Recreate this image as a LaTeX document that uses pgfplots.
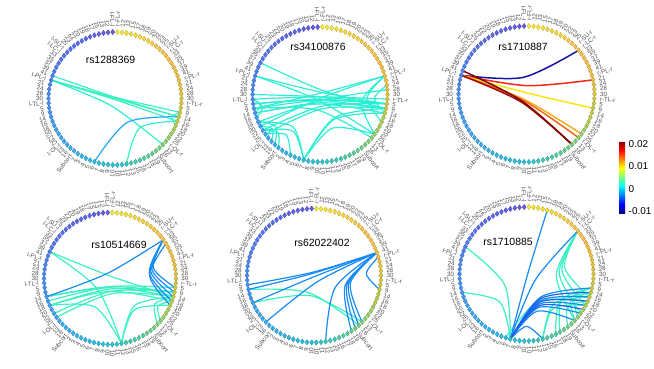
\documentclass[border=0pt]{standalone}
\usepackage{fontspec}
\setmainfont{Liberation Sans}
\usepackage{pgfplots}
\usepackage{pgfplotstable}
\pgfplotsset{compat=1.18}
\usepgfplotslibrary{polar}

\definecolor{aq}{RGB}{60,240,195}
\definecolor{aqc}{RGB}{45,238,212}
\definecolor{bl1}{RGB}{35,165,250}
\definecolor{bl}{RGB}{22,138,245}
\definecolor{bld}{RGB}{30,95,235}
\definecolor{dkb}{RGB}{20,20,165}
\definecolor{rd}{RGB}{240,40,20}
\definecolor{yl}{RGB}{252,228,20}
\definecolor{or1}{RGB}{250,170,30}
\definecolor{or2}{RGB}{245,105,20}
\definecolor{dr}{RGB}{165,8,5}
\definecolor{dr2}{RGB}{128,0,0}
\definecolor{lab}{RGB}{80,80,80}

\pgfplotsset{colormap={nodecm}{rgb255(0)=(100,92,228) rgb255(11)=(88,112,240)
  rgb255(22)=(72,142,246) rgb255(33)=(58,172,242) rgb255(44)=(40,196,214)
  rgb255(50)=(72,206,172) rgb255(56)=(130,210,120) rgb255(62)=(190,206,72)
  rgb255(70)=(236,196,62) rgb255(76)=(250,190,70) rgb255(89)=(245,236,56)}}

% node layout: angle, colour index, radius, label radius, label
\pgfplotstableread{
a c r rl t
92 0 1 1.08 l-FL-l
96 1 1 1.08 12
100 2 1 1.08 13
104 3 1 1.08 15
108 4 1 1.08 17
112 5 1 1.08 18
116 6 1 1.08 19
120 7 1 1.08 20
124 8 1 1.08 22
128 9 1 1.08 23
132 10 1 1.08 25
136 11 1 1.08 l-SU-l
140 12 1 1.08 l-LC-l
144 13 1 1.08 33
148 14 1 1.08 35
152 15 1 1.08 37
156 16 1 1.08 39
160 17 1 1.08 41
164 18 1 1.08 l-PL-l
168 19 1 1.08 21
172 20 1 1.08 24
176 21 1 1.08 28
180 22 1 1.08 30
184 23 1 1.08 l-TL-l
188 24 1 1.08 5
192 25 1 1.08 9
196 26 1 1.08 14
200 27 1 1.08 16
204 28 1 1.08 18
208 29 1 1.08 20
212 30 1 1.08 22
216 31 1 1.08 25
220 32 1 1.08 l-OL-l
224 33 1 1.08 13
228 34 1 1.08 16
232 35 1 1.08 Subcort
236 36 1 1.08 2
240 37 1 1.08 3
244 38 1 1.08 4
248 39 1 1.08 5
252 40 1 1.08 6
256 41 1 1.08 7
260 42 1 1.08 8
264 43 1 1.08 9
268 44 1 1.08 10
}\leftnodes

\pgfplotstableread{
a c r rl t
88 89 1 1.08 r-FL-r
84 88 1 1.08 12
80 87 1 1.08 13
76 86 1 1.08 15
72 85 1 1.08 17
68 84 1 1.08 18
64 83 1 1.08 19
60 82 1 1.08 20
56 81 1 1.08 22
52 80 1 1.08 23
48 79 1 1.08 25
44 78 1 1.08 r-SU-r
40 77 1 1.08 r-LC-r
36 76 1 1.08 33
32 75 1 1.08 35
28 74 1 1.08 37
24 73 1 1.08 39
20 72 1 1.08 41
16 71 1 1.08 r-PL-r
12 70 1 1.08 21
8 69 1 1.08 24
4 68 1 1.08 28
0 67 1 1.08 30
-4 66 1 1.08 r-TL-r
-8 65 1 1.08 5
-12 64 1 1.08 9
-16 63 1 1.08 14
-20 62 1 1.08 16
-24 61 1 1.08 18
-28 60 1 1.08 20
-32 59 1 1.08 22
-36 58 1 1.08 25
-40 57 1 1.08 r-OL-r
-44 56 1 1.08 13
-48 55 1 1.08 16
-52 54 1 1.08 Subcort
-56 53 1 1.08 19
-60 52 1 1.08 18
-64 51 1 1.08 17
-68 50 1 1.08 16
-72 49 1 1.08 15
-76 48 1 1.08 13
-80 47 1 1.08 12
-84 46 1 1.08 11
-88 45 1 1.08 10
}\rightnodes

\newcommand{\labfont}{\fontsize{6.2}{6.2}\selectfont}
\newcommand{\titfont}{\fontsize{10.5}{12}\selectfont}

\pgfplotsset{
  ring/.style={hide axis, scale only axis, anchor=center, clip=false,
    xmin=-1.5, xmax=1.5, ymin=-1.5, ymax=1.5, data cs=polar,
    colormap name=nodecm, point meta min=0, point meta max=89},
  lk/.style={smooth, mark=none, line width=1.2bp},
}

% diamonds and their labels, same in every panel
\newcommand{\ringnodes}{%
  \addplot[scatter, only marks, mark=diamond*, mark size=2.6bp, scatter src=explicit]
    table[x=a, y=r, meta=c] {\leftnodes};
  \addplot[scatter, only marks, mark=diamond*, mark size=2.6bp, scatter src=explicit]
    table[x=a, y=r, meta=c] {\rightnodes};
  \addplot[only marks, mark=none, point meta=explicit symbolic,
    visualization depends on={\thisrow{a} \as \ang},
    nodes near coords, nodes near coords align={anchor=east},
    every node near coord/.append style={rotate=\ang+180, anchor=east,
      font=\labfont, text=lab, inner sep=0pt}]
    table[x=a, y=rl, meta=t] {\leftnodes};
  \addplot[only marks, mark=none, point meta=explicit symbolic,
    visualization depends on={\thisrow{a} \as \ang},
    nodes near coords, nodes near coords align={anchor=west},
    every node near coord/.append style={rotate=\ang, anchor=west,
      font=\labfont, text=lab, inner sep=0pt}]
    table[x=a, y=rl, meta=t] {\rightnodes};
}

\begin{document}
\begin{tikzpicture}[x=1bp, y=1bp]
\useasboundingbox (0,0) rectangle (654,368);

% ---- rs1288369
\begin{axis}[ring, at={(115bp,269.5bp)}, width=199.5bp, height=199.5bp]
\addplot[lk,aq] coordinates {(164,1) (76,0.017) (348,1)};
\addplot[lk,aq] coordinates {(164,1) (254,0) (344,1)};
\addplot[lk,aq] coordinates {(164,1) (252,0.017) (340,1)};
\addplot[lk,aq] coordinates {(160,1) (72,0.017) (344,1)};
\addplot[lk,aqc] coordinates {(164,1) (240,0.123) (316,1)};
\addplot[lk,bl1] coordinates {(252,1) (298,0.404) (344,1)};
\addplot[lk,aq] coordinates {(280,1) (310,0.577) (340,1)};
\addplot[lk,aq] coordinates {(336,1) (342,0.900) (348,1)};
\ringnodes
\end{axis}
\node[font=\titfont] at (110.5,308) {rs1288369};

% ---- rs34100876
\begin{axis}[ring, at={(320bp,273.5bp)}, width=202.5bp, height=202.5bp]
\addplot[lk,aqc] coordinates {(152,1) (70,0.070) (348,1)};
\addplot[lk,aqc] coordinates {(164,1) (244,0.087) (324,1)};
\addplot[lk,aqc] coordinates {(164,1) (78,0.035) (352,1)};
\addplot[lk,aqc] coordinates {(16,1) (104,0.017) (192,1)};
\addplot[lk,aqc] coordinates {(16,1) (292,0.052) (208,1)};
\addplot[lk,aqc] coordinates {(184,1) (270,0.035) (356,1)};
\addplot[lk,aqc] coordinates {(188,1) (270,0.070) (352,1)};
\addplot[lk,aqc] coordinates {(192,1) (272,0.087) (352,1)};
\addplot[lk,aqc] coordinates {(188,1) (268,0.087) (348,1)};
\addplot[lk,aqc] coordinates {(196,1) (272,0.123) (348,1)};
\addplot[lk,aqc] coordinates {(180,1) (266,0.035) (352,1)};
\addplot[lk,aqc] coordinates {(212,1) (282,0.176) (352,1)};
\addplot[lk,aqc] coordinates {(216,1) (282,0.213) (348,1)};
\addplot[lk,aqc] coordinates {(256,1) (234,0.675) (212,1)};
\addplot[lk,aqc] coordinates {(256,1) (230,0.625) (204,1)};
\addplot[lk,aqc] coordinates {(256,1) (300,0.424) (344,1)};
\addplot[lk,aqc] coordinates {(256,1) (290,0.532) (324,1)};
\addplot[lk,aqc] coordinates {(256,1) (302,0.404) (348,1)};
\addplot[lk,aqc] coordinates {(16,1) (350,0.625) (324,1)};
\addplot[lk,aqc] coordinates {(16,1) (356,0.700) (336,1)};
\addplot[lk,aqc] coordinates {(8,1) (356,0.810) (344,1)};
\addplot[lk,aqc] coordinates {(184,1) (190,0.900) (196,1)};
\addplot[lk,aqc] coordinates {(184,1) (192,0.869) (200,1)};
\addplot[lk,aqc] coordinates {(208,1) (216,0.869) (224,1)};
\addplot[lk,aqc] coordinates {(204,1) (216,0.810) (228,1)};
\addplot[lk,aqc] coordinates {(212,1) (222,0.839) (232,1)};
\addplot[lk,aqc] coordinates {(216,1) (230,0.781) (244,1)};
\addplot[lk,aqc] coordinates {(192,1) (256,0.231) (320,1)};
\addplot[lk,aqc] coordinates {(204,1) (284,0.087) (4,1)};
\addplot[lk,aqc] coordinates {(196,1) (270,0.141) (344,1)};
\ringnodes
\end{axis}
\node[font=\titfont] at (318,321) {rs34100876};

% ---- rs1710887
\begin{axis}[ring, at={(526.5bp,274bp)}, width=204bp, height=204bp]
\addplot[lk,dkb,line width=1.5bp] coordinates {(164,1) (102,0.249) (40,1)};
\addplot[lk,rd,line width=1.5bp] coordinates {(164,1) (88,0.123) (12,1)};
\addplot[lk,yl,line width=1.5bp] coordinates {(164,1) (76,0.017) (348,1)};
\addplot[lk,or1,line width=1.5bp] coordinates {(164,1) (244,0.087) (324,1)};
\addplot[lk,or2,line width=1.5bp] coordinates {(164,1) (242,0.105) (320,1)};
\addplot[lk,dr,line width=1.5bp] coordinates {(164,1) (238,0.141) (312,1)};
\addplot[lk,dr2,line width=1.5bp] coordinates {(160,1) (236,0.123) (312,1)};
\ringnodes
\end{axis}
\node[font=\titfont] at (523,321) {rs1710887};

% ---- rs10514669
\begin{axis}[ring, at={(110bp,89.5bp)}, width=198bp, height=198bp]
\addplot[lk,aq] coordinates {(156,1) (70,0.035) (344,1)};
\addplot[lk,aq] coordinates {(156,1) (218,0.249) (280,1)};
\addplot[lk,aq] coordinates {(196,1) (272,0.123) (348,1)};
\addplot[lk,aq] coordinates {(196,1) (270,0.141) (344,1)};
\addplot[lk,aq] coordinates {(204,1) (276,0.158) (348,1)};
\addplot[lk,aq] coordinates {(204,1) (272,0.194) (340,1)};
\addplot[lk,aq] coordinates {(216,1) (280,0.231) (344,1)};
\addplot[lk,aq] coordinates {(212,1) (280,0.194) (348,1)};
\addplot[lk,aq] coordinates {(200,1) (276,0.123) (352,1)};
\addplot[lk,aq] coordinates {(280,1) (312,0.554) (344,1)};
\addplot[lk,aq] coordinates {(280,1) (308,0.601) (336,1)};
\addplot[lk,aq] coordinates {(280,1) (242,0.488) (204,1)};
\addplot[lk,aq] coordinates {(316,1) (330,0.781) (344,1)};
\addplot[lk,aq] coordinates {(320,1) (330,0.839) (340,1)};
\addplot[lk,bl] coordinates {(36,1) (116,0.087) (196,1)};
\addplot[lk,bl] coordinates {(36,1) (14,0.675) (352,1)};
\addplot[lk,bl] coordinates {(36,1) (12,0.649) (348,1)};
\addplot[lk,bl] coordinates {(36,1) (10,0.625) (344,1)};
\addplot[lk,bl] coordinates {(36,1) (8,0.601) (340,1)};
\addplot[lk,bl] coordinates {(32,1) (4,0.601) (336,1)};
\ringnodes
\end{axis}
\node[font=\titfont] at (119,123) {rs10514669};

% ---- rs62022402
\begin{axis}[ring, at={(314bp,92.5bp)}, width=201bp, height=201bp]
\addplot[lk,aq] coordinates {(192,1) (252,0.268) (312,1)};
\addplot[lk,aq] coordinates {(204,1) (260,0.306) (316,1)};
\addplot[lk,bl] coordinates {(20,1) (104,0.052) (188,1)};
\addplot[lk,bl] coordinates {(20,1) (106,0.035) (192,1)};
\addplot[lk,bl] coordinates {(20,1) (292,0.017) (204,1)};
\addplot[lk,bl] coordinates {(20,1) (302,0.105) (224,1)};
\addplot[lk,bl] coordinates {(20,1) (330,0.364) (280,1)};
\addplot[lk,bl] coordinates {(20,1) (342,0.488) (304,1)};
\addplot[lk,bl] coordinates {(20,1) (344,0.510) (308,1)};
\addplot[lk,bl] coordinates {(20,1) (346,0.532) (312,1)};
\addplot[lk,bl] coordinates {(20,1) (348,0.554) (316,1)};
\addplot[lk,bl] coordinates {(16,1) (2,0.781) (348,1)};
\ringnodes
\end{axis}
\node[font=\titfont] at (322,125) {rs62022402};

% ---- rs1710885
\begin{axis}[ring, at={(526.5bp,94bp)}, width=201bp, height=201bp]
\addplot[lk,aq] coordinates {(156,1) (206,0.364) (256,1)};
\addplot[lk,aq] coordinates {(196,1) (226,0.577) (256,1)};
\addplot[lk,aq] coordinates {(40,1) (6,0.532) (332,1)};
\addplot[lk,aq] coordinates {(40,1) (2,0.488) (324,1)};
\addplot[lk,aq] coordinates {(40,1) (358,0.445) (316,1)};
\addplot[lk,aq] coordinates {(40,1) (10,0.577) (340,1)};
\addplot[lk,aq] coordinates {(284,1) (312,0.601) (340,1)};
\addplot[lk,aq] coordinates {(284,1) (308,0.649) (332,1)};
\addplot[lk,aq] coordinates {(296,1) (320,0.649) (344,1)};
\addplot[lk,aq] coordinates {(300,1) (324,0.649) (348,1)};
\addplot[lk,aq] coordinates {(316,1) (332,0.754) (348,1)};
\addplot[lk,aq] coordinates {(320,1) (332,0.810) (344,1)};
\addplot[lk,aq] coordinates {(308,1) (322,0.781) (336,1)};
\addplot[lk,aq] coordinates {(252,1) (294,0.445) (336,1)};
\addplot[lk,bl] coordinates {(256,1) (344,0.017) (72,1)};
\addplot[lk,bl] coordinates {(256,1) (328,0.158) (40,1)};
\addplot[lk,bl] coordinates {(256,1) (302,0.404) (348,1)};
\addplot[lk,bl] coordinates {(256,1) (298,0.445) (340,1)};
\addplot[lk,bl] coordinates {(256,1) (294,0.488) (332,1)};
\addplot[lk,bl] coordinates {(256,1) (290,0.532) (324,1)};
\addplot[lk,bl] coordinates {(256,1) (286,0.577) (316,1)};
\addplot[lk,bl] coordinates {(256,1) (270,0.781) (284,1)};
\addplot[lk,bld] coordinates {(256,1) (300,0.424) (344,1)};
\addplot[lk,bld] coordinates {(256,1) (296,0.466) (336,1)};
\addplot[lk,bld] coordinates {(256,1) (292,0.510) (328,1)};
\ringnodes
\end{axis}
\node[font=\titfont] at (508,126) {rs1710885};

% ---- colour bar
\begin{axis}[at={(610.7bp,227bp)}, anchor=north west, scale only axis,
  width=6bp, height=72bp, hide axis, xmin=0, xmax=1, ymin=0, ymax=1,
  colormap/jet, point meta min=-0.0109, point meta max=0.0213,
  colorbar, colorbar style={at={(parent axis.north west)}, anchor=north west,
    xshift=0pt, scale only axis, width=6bp, height=72bp,
    ytick={-0.01,0,0.01,0.02}, yticklabels={-0.01,0,0.01,0.02},
    scaled y ticks=false, major tick length=0pt,
    axis line style={draw=none},
    yticklabel style={font=\fontsize{10}{12}\selectfont,
      /pgf/number format/assume math mode=true}}]
\addplot[draw=none] coordinates {(0.5,0.5)};
\end{axis}
\end{tikzpicture}
\end{document}
